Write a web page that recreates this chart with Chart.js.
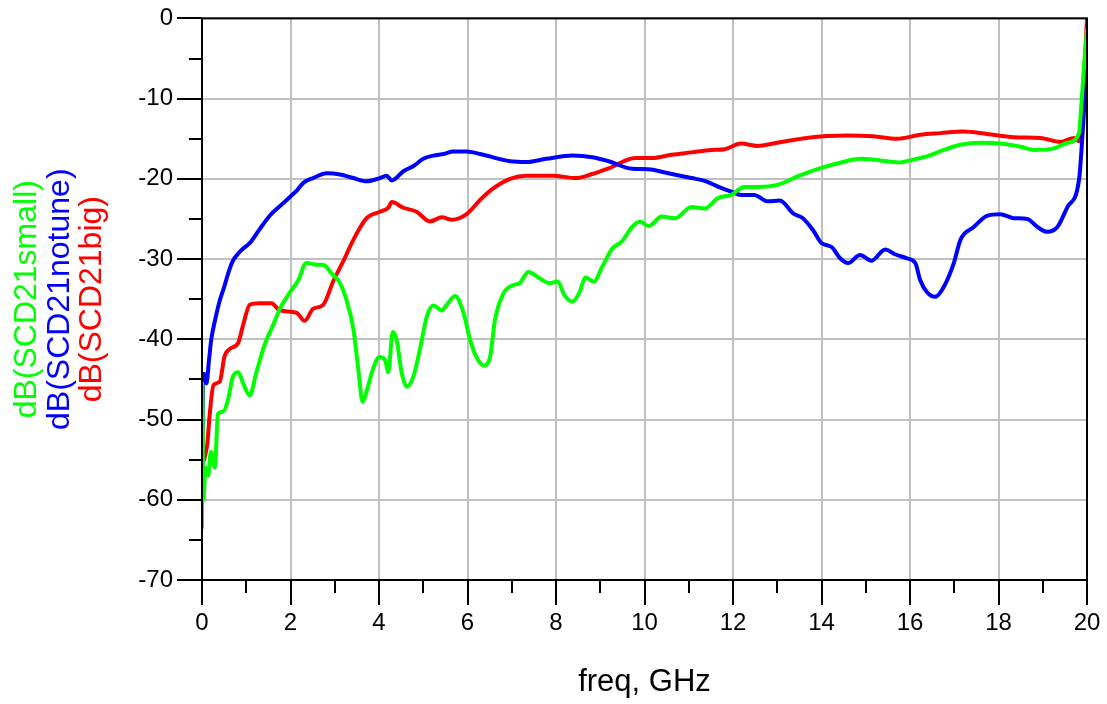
<!DOCTYPE html>
<html>
<head>
<meta charset="utf-8">
<title>SCD21</title>
<script src="https://cdn.jsdelivr.net/npm/chart.js@4"></script>
<style>
  html, body { margin: 0; padding: 0; background: #fff; }
  #wrap { width: 1107px; height: 704px; }
</style>
</head>
<body>
<div id="wrap"><canvas id="myChart" width="1107" height="704"></canvas></div>
<script>
"use strict";

// axis setup
const freqMin = 0, freqMax = 20, freqStep = 2;
const dbMin = -70, dbMax = 0, dbStep = 10;

// dB(SCD21small)
const smallFreq = [0, 0.005, 0.03, 0.08, 0.14, 0.2, 0.24, 0.29, 0.36, 0.48, 0.59, 0.7, 0.82, 0.93, 1.08, 1.23, 1.42, 1.61, 1.76, 1.98,
  2.17, 2.36, 2.59, 2.74, 2.93, 3.12, 3.27, 3.42, 3.53, 3.63, 3.72, 3.87, 4.01, 4.14, 4.21, 4.31, 4.4, 4.51, 4.63, 4.78,
  4.93, 5.08, 5.23, 5.42, 5.53, 5.72, 5.91, 6.06, 6.21, 6.37, 6.51, 6.62, 6.81, 7.03, 7.18, 7.37, 7.63, 7.85, 8.04, 8.19,
  8.37, 8.52, 8.67, 8.86, 9.04, 9.27, 9.49, 9.72, 9.9, 10.09, 10.39, 10.69, 11.06, 11.36, 11.66, 11.96, 12.25, 12.55, 13.0, 13.5,
  13.96, 14.42, 14.87, 15.32, 15.74, 16.08, 16.38, 16.76, 17.14, 17.59, 18.04, 18.5, 18.8, 19.25, 19.56, 19.82, 19.87, 19.92, 19.96, 20];
const smallDb = [-63.5, -45.5, -60, -56, -57, -54, -54.5, -56, -49.3, -49, -47.5, -44.6, -44.1, -45.5, -47, -44.1, -40.6, -38.2, -36.2, -34.2,
  -32.7, -30.5, -30.7, -30.7, -31.8, -33, -35.2, -38.7, -43.6, -47.8, -46.5, -43.6, -42.2, -42.6, -44.1, -39.1, -40.1, -44.1, -45.9, -44.6,
  -41.1, -37.2, -35.8, -36.4, -35.7, -34.6, -36.7, -40.1, -42.3, -43.25, -42.2, -37.6, -34.3, -33.25, -33.0, -31.6, -32.4, -33.0, -32.8, -34.5,
  -35.3, -34.3, -32.3, -32.8, -31.0, -28.7, -27.8, -26.0, -25.3, -25.9, -24.7, -24.9, -23.5, -23.7, -22.4, -22.0, -21.0, -21.0, -20.75, -19.6,
  -18.7, -18.0, -17.5, -17.7, -17.95, -17.6, -17.2, -16.4, -15.75, -15.5, -15.6, -16.0, -16.4, -16.2, -15.5, -14.3, -11, -7, -4, -1.5];

// dB(SCD21notune)
const notuneFreq = [0, 0.02, 0.05, 0.1, 0.16, 0.21, 0.3, 0.4, 0.5, 0.59, 0.7, 0.82, 0.95, 1.08, 1.3, 1.53, 1.76, 1.98, 2.15, 2.29,
  2.51, 2.82, 3.12, 3.42, 3.72, 4.02, 4.17, 4.29, 4.55, 4.78, 5.0, 5.23, 5.46, 5.68, 5.98, 6.28, 6.96, 7.33, 7.78, 8.37,
  8.82, 9.19, 9.72, 10.09, 10.46, 11.06, 11.36, 11.66, 11.96, 12.18, 12.48, 12.78, 13.06, 13.36, 13.58, 13.81, 14.0, 14.23, 14.42, 14.6,
  14.87, 15.13, 15.44, 15.66, 15.93, 16.12, 16.23, 16.38, 16.57, 16.76, 16.99, 17.14, 17.44, 17.74, 18.04, 18.34, 18.65, 18.88, 19.1, 19.33,
  19.56, 19.82, 19.9, 19.97, 20];
const notuneDb = [-60, -45, -44.3, -45.5, -42.5, -40, -37.5, -35.2, -33.5, -31.8, -30.2, -29.3, -28.6, -28, -26.3, -24.6, -23.4, -22.3, -21.4, -20.5,
  -19.9, -19.3, -19.45, -19.9, -20.3, -19.9, -19.6, -20.2, -19.05, -18.4, -17.5, -17.1, -16.9, -16.6, -16.6, -16.9, -17.8, -17.9, -17.5, -17.1,
  -17.3, -17.8, -18.75, -18.8, -19.2, -19.9, -20.25, -20.96, -21.6, -22.0, -22.0, -22.8, -22.7, -24.3, -24.9, -26.4, -28, -28.5, -29.9, -30.5,
  -29.5, -30.2, -28.8, -29.4, -29.9, -30.5, -32.6, -34.1, -34.7, -33.5, -30.5, -27.6, -26, -24.6, -24.4, -24.9, -25, -26, -26.6, -26,
  -23.5, -20.1, -14.3, -8, -4];

// dB(SCD21big)
const bigFreq = [0.05, 0.12, 0.18, 0.26, 0.4, 0.51, 0.63, 0.82, 0.93, 1.08, 1.3, 1.57, 1.76, 2.14, 2.32, 2.51, 2.74, 2.97, 3.19, 3.42,
  3.72, 4.02, 4.21, 4.29, 4.55, 4.85, 5.15, 5.42, 5.65, 5.98, 6.29, 6.58, 6.96, 7.33, 7.93, 8.45, 8.82, 9.19, 9.79, 10.16,
  10.61, 11.06, 11.51, 11.81, 12.18, 12.55, 13.0, 13.66, 14.57, 15.17, 15.7, 16.23, 16.68, 17.21, 17.74, 18.35, 18.95, 19.4, 19.71, 19.82,
  19.87, 19.92, 19.96, 20];
const bigDb = [-55, -53, -49, -45.7, -45.3, -42.1, -41.2, -40.4, -38.2, -35.7, -35.5, -35.5, -36.4, -36.7, -37.7, -36.2, -35.7, -32.7, -30.3, -27.6,
  -24.9, -24.1, -23.6, -22.9, -23.6, -24.1, -25.3, -24.8, -25.1, -24.4, -22.6, -21.2, -20.0, -19.6, -19.6, -19.9, -19.4, -18.7, -17.4, -17.4,
  -17.0, -16.7, -16.4, -16.3, -15.6, -15.9, -15.5, -14.9, -14.6, -14.7, -15.0, -14.5, -14.3, -14.1, -14.4, -14.8, -14.9, -15.4, -14.9, -15.3,
  -12, -8.5, -4.5, 0];

// y-axis titles, one colored line per trace
const traceNames = ['dB(SCD21small)', 'dB(SCD21notune)', 'dB(SCD21big)'];
const traceColors = ['#00ff00', '#0000ff', '#ff0000'];

const FONT = "'Liberation Sans', Arial, sans-serif";

function points(xs, ys) {
  return xs.map((x, i) => ({x: x, y: ys[i]}));
}

function trace(idx, xs, ys) {
  return {
    label: traceNames[idx],
    data: points(xs, ys),
    borderColor: traceColors[idx],
    borderWidth: 4,
    pointRadius: 0,
    fill: false,
    cubicInterpolationMode: 'monotone',
    borderJoinStyle: 'round',
    borderCapStyle: 'round'
  };
}

// black frame, major/minor tick marks and the stacked y titles
const framePlugin = {
  id: 'framePlugin',
  afterDraw(chart) {
    const {ctx, chartArea: a, scales: {x, y}} = chart;
    ctx.save();
    ctx.strokeStyle = '#000';
    ctx.lineWidth = 2;
    ctx.beginPath();
    for (let v = freqMin; v <= freqMax; v += freqStep / 2) {
      const px = Math.round(x.getPixelForValue(v));
      const len = (v % freqStep === 0) ? 25 : 13;
      ctx.moveTo(px, a.bottom);
      ctx.lineTo(px, a.bottom + len);
    }
    for (let v = dbMin; v <= dbMax; v += dbStep / 2) {
      const py = Math.round(y.getPixelForValue(v));
      const len = (v % dbStep === 0) ? 25 : 13;
      ctx.moveTo(a.left, py);
      ctx.lineTo(a.left - len, py);
    }
    ctx.stroke();
    ctx.strokeRect(a.left, a.top, a.right - a.left, a.bottom - a.top);

    // rotated, colored axis titles
    const cy = (a.top + a.bottom) / 2;
    const baseX = [36, 69, 101];
    ctx.font = '32px ' + FONT;
    ctx.textAlign = 'center';
    ctx.textBaseline = 'alphabetic';
    traceNames.forEach((name, i) => {
      ctx.save();
      ctx.translate(baseX[i], cy);
      ctx.rotate(-Math.PI / 2);
      ctx.fillStyle = traceColors[i];
      ctx.fillText(name, 0, 0);
      ctx.restore();
    });
    ctx.restore();
  }
};

const config = {
  type: 'line',
  data: {
    datasets: [
      trace(0, smallFreq, smallDb),
      trace(1, notuneFreq, notuneDb),
      trace(2, bigFreq, bigDb)
    ]
  },
  options: {
    responsive: false,
    animation: false,
    layout: { padding: { top: 18, right: 20, left: 0, bottom: 0 } },
    plugins: {
      legend: { display: false },
      tooltip: { enabled: false }
    },
    scales: {
      x: {
        type: 'linear',
        min: freqMin,
        max: freqMax,
        afterFit: (s) => { s.height = 124; },
        // tick marks themselves come from framePlugin
        grid: { color: '#c0c0c0', lineWidth: 2, drawTicks: true, tickLength: 25, tickColor: 'rgba(0,0,0,0)' },
        border: { display: false },
        ticks: {
          stepSize: freqStep,
          padding: 4,
          color: '#000',
          font: { family: FONT, size: 24 }
        },
        title: {
          display: true,
          text: 'freq, GHz',
          color: '#000',
          font: { family: FONT, size: 31 },
          padding: { top: 0, bottom: 3 }
        }
      },
      y: {
        type: 'linear',
        min: dbMin,
        max: dbMax,
        afterFit: (s) => { s.width = 202; },
        grid: { color: '#c0c0c0', lineWidth: 2, drawTicks: true, tickLength: 25, tickColor: 'rgba(0,0,0,0)' },
        border: { display: false },
        ticks: {
          stepSize: dbStep,
          padding: 4,
          color: '#000',
          font: { family: FONT, size: 24 }
        }
      }
    }
  },
  plugins: [framePlugin]
};

const myChart = new Chart(document.getElementById('myChart'), config);
</script>
</body>
</html>
